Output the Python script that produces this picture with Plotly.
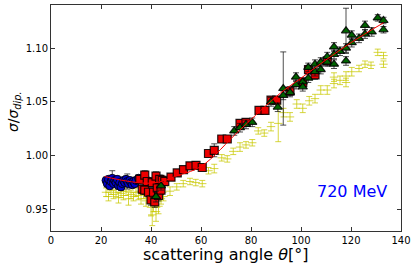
import plotly.graph_objects as go

# ---- data ----
# Yellow (lower) series
yel_x = [22, 23, 24, 25, 26, 27, 28, 29, 30, 31, 32, 33, 34, 35, 36, 37, 38, 39, 40, 40.5, 41, 42, 42.5, 43, 44, 45,
         47.6, 50.3, 52.9, 55.6, 57.9, 60.5, 63, 65.3, 68.3, 70.5, 72.9, 75.6, 78, 80.5, 82.9, 85.3, 88, 90.9,
         93, 95.6, 98.3, 100.7, 103.3, 105.6, 107.9, 110.5, 113.2, 113.2, 115.6, 118, 118, 120.3, 123.2, 125.6,
         128, 130.7, 133, 133]
yel_y = [0.966, 0.962, 0.968, 0.964, 0.966, 0.961, 0.965, 0.963, 0.967, 0.960, 0.964, 0.962, 0.966, 0.963, 0.960,
         0.964, 0.958, 0.961, 0.952, 0.945, 0.955, 0.948, 0.958, 0.953, 0.960, 0.962,
         0.967, 0.971, 0.974, 0.976, 0.975, 0.974, 0.986, 0.988, 0.998, 0.997, 1.004, 1.008, 1.010, 1.012,
         1.023, 1.021, 1.027, 1.030, 1.040, 1.036, 1.048, 1.044, 1.051, 1.053, 1.061, 1.061, 1.067, 1.073,
         1.070, 1.068, 1.074, 1.078, 1.081, 1.085, 1.084, 1.096, 1.093, 1.085]
yel_e = [0.004, 0.004, 0.004, 0.004, 0.004, 0.005, 0.004, 0.004, 0.004, 0.006, 0.004, 0.004, 0.004, 0.004, 0.005,
         0.004, 0.005, 0.005, 0.008, 0.010, 0.007, 0.009, 0.006, 0.007, 0.005, 0.004,
         0.004, 0.003, 0.003, 0.003, 0.003, 0.003, 0.003, 0.004, 0.003, 0.003, 0.003, 0.004, 0.003, 0.003,
         0.003, 0.003, 0.004, 0.017, 0.004, 0.004, 0.004, 0.004, 0.004, 0.004, 0.004, 0.004, 0.004, 0.004,
         0.004, 0.004, 0.004, 0.004, 0.003, 0.003, 0.003, 0.003, 0.003, 0.003]

# Blue circles
blue_x = [22, 22.5, 23, 23.5, 24, 24.5, 25, 25.5, 26, 26.5, 27, 27.5, 28, 28.5, 29, 29.5, 30, 30.5, 31, 31.5,
          32, 32.5, 33, 33.5, 34, 35]
blue_y = [0.977, 0.974, 0.978, 0.972, 0.976, 0.979, 0.974, 0.977, 0.975, 0.978, 0.972, 0.975, 0.971, 0.974,
          0.977, 0.975, 0.978, 0.976, 0.974, 0.977, 0.975, 0.973, 0.976, 0.974, 0.977, 0.979]
blue_e = [0.003, 0.003, 0.003, 0.003, 0.003, 0.007, 0.003, 0.003, 0.003, 0.003, 0.003, 0.003, 0.003, 0.003,
          0.003, 0.003, 0.003, 0.007, 0.003, 0.003, 0.003, 0.003, 0.003, 0.003, 0.003, 0.003]

# Red squares
red_x = [35.5, 36.5, 37.5, 37.5, 38.5, 39, 40, 40.5, 41, 41.5, 42, 42.5, 43, 43.5, 44, 44.5, 45.5,
         48, 50.5, 53, 55.6, 58, 60.5, 63, 65.3, 68.3, 70.5, 75.6, 78, 83.2, 85.6, 88, 90.3, 95.6, 100.7,
         103, 105.6, 110.5]
red_y = [0.978, 0.969, 0.982, 0.968, 0.976, 0.966, 0.959, 0.975, 0.966, 0.957, 0.981, 0.970, 0.963, 0.978,
         0.968, 0.977, 0.976,
         0.980, 0.984, 0.987, 0.9905, 0.991, 0.989, 1.002, 1.005, 1.0155, 1.0155, 1.030, 1.031, 1.042, 1.042,
         1.0516, 1.0516, 1.060, 1.068, 1.080, 1.075, 1.088]
red_e = [0.004, 0.004, 0.004, 0.004, 0.004, 0.004, 0.005, 0.004, 0.004, 0.005, 0.004, 0.004, 0.005, 0.004,
         0.004, 0.004, 0.004,
         0.003, 0.003, 0.003, 0.003, 0.003, 0.003, 0.003, 0.006, 0.003, 0.003, 0.003, 0.003, 0.003, 0.003,
         0.003, 0.003, 0.004, 0.004, 0.004, 0.004, 0.004]

# Green triangles
grn_x = [42, 44, 73.3, 75.6, 78, 80.5, 88, 90.7, 92.9, 92.9, 95.6, 98, 98, 100.7, 100.7, 102.9, 102.9, 105.6,
         105.6, 107.9, 107.9, 110.5, 110.5, 113.2, 113.2, 113.2, 115.6, 118, 118, 118, 120.3, 120.3, 123.2,
         125.6, 125.6, 128.3, 130.7, 133, 133]
grn_y = [0.962, 0.972, 1.023, 1.026, 1.029, 1.031, 1.050, 1.045, 1.0624, 1.056, 1.0587, 1.073, 1.066, 1.0685,
         1.064, 1.082, 1.072, 1.078, 1.085, 1.087, 1.080, 1.087, 1.092, 1.101, 1.094, 1.085, 1.097, 1.116,
         1.100, 1.088, 1.112, 1.105, 1.109, 1.121, 1.113, 1.115, 1.128, 1.1256, 1.117]
grn_e = [0.005, 0.004, 0.004, 0.004, 0.004, 0.004, 0.004, 0.004, 0.034, 0.004, 0.004, 0.004, 0.004, 0.004,
         0.004, 0.004, 0.004, 0.004, 0.004, 0.004, 0.004, 0.004, 0.004, 0.004, 0.004, 0.004, 0.004, 0.021,
         0.004, 0.004, 0.004, 0.004, 0.004, 0.004, 0.004, 0.004, 0.003, 0.003, 0.003]

# Red fit line
fit_x = [21.5, 30, 38.8, 45, 49.5, 60, 75.6, 91.7, 100, 110, 120, 133]
fit_y = [0.9806, 0.9765, 0.9744, 0.9765, 0.9806, 0.990, 1.024, 1.058, 1.072, 1.089, 1.105, 1.1235]

x_ticks = [0, 20, 40, 60, 80, 100, 120, 140]
y_ticks = [0.95, 1.00, 1.05, 1.10]

FONT = "DejaVu Sans"
fig = go.Figure()

fig.add_trace(go.Scatter(
    x=yel_x, y=yel_y, mode="markers",
    marker=dict(symbol="line-ew", size=6, color="rgba(200,200,0,0.75)",
                line=dict(color="rgba(200,200,0,0.75)", width=1)),
    error_y=dict(type="data", array=yel_e, color="rgba(200,200,0,0.75)", thickness=1, width=3),
    showlegend=False))

blk_err = dict(color="rgba(20,20,20,0.75)", thickness=1, width=3)
fig.add_trace(go.Scatter(
    x=blue_x, y=blue_y, mode="markers",
    marker=dict(symbol="circle", size=8, color="#0000cc", line=dict(color="rgba(0,0,0,0.85)", width=1)),
    error_y=dict(type="data", array=blue_e, **blk_err), showlegend=False))
fig.add_trace(go.Scatter(
    x=red_x, y=red_y, mode="markers",
    marker=dict(symbol="square", size=8, color="#ee0000", line=dict(color="rgba(0,0,0,0.85)", width=1.2)),
    error_y=dict(type="data", array=red_e, **blk_err), showlegend=False))
fig.add_trace(go.Scatter(
    x=grn_x, y=grn_y, mode="markers",
    marker=dict(symbol="triangle-up", size=8, color="#006400", line=dict(color="rgba(0,0,0,0.85)", width=1.2)),
    error_y=dict(type="data", array=grn_e, **blk_err), showlegend=False))
fig.add_trace(go.Scatter(
    x=fit_x, y=fit_y, mode="lines", line=dict(color="red", width=1, shape="spline"),
    showlegend=False))

fig.add_annotation(x=120.2, y=0.9669, xref="x", yref="y", text="720 MeV", showarrow=False,
                   font=dict(family=FONT, size=16, color="blue"))
fig.add_annotation(x=0.5, y=-0.102, xref="paper", yref="paper", xanchor="center", yanchor="middle",
                   text="scattering angle <i>θ</i>[°]", showarrow=False,
                   font=dict(family=FONT, size=16, color="black"))
fig.add_annotation(x=-0.106, y=0.53, xref="paper", yref="paper", xanchor="center", yanchor="middle",
                   textangle=-90, text="<i>σ</i>/<i>σ</i><sub><i>dip.</i></sub>", showarrow=False,
                   font=dict(family=FONT, size=14, color="black"))

axis_common = dict(showgrid=False, zeroline=False, ticks="inside", ticklen=4, tickcolor="#333",
                   showline=True, linecolor="#333", linewidth=1, mirror="allticks", automargin=False,
                   tickfont=dict(family=FONT, size=10, color="black"))
fig.update_xaxes(range=[0, 140], tickvals=x_ticks, ticktext=[str(v) for v in x_ticks], **axis_common)
fig.update_yaxes(range=[0.93, 1.14], tickvals=y_ticks, ticktext=[f"{v:.2f}" for v in y_ticks], **axis_common)
fig.update_layout(width=415, height=271, margin=dict(l=51, r=14, t=5, b=40),
                  plot_bgcolor="white", paper_bgcolor="white", font=dict(family=FONT))
fig.write_html("out.html", config={"displayModeBar": False},
               post_script="document.body.style.margin='0';document.body.style.overflow='hidden';")
